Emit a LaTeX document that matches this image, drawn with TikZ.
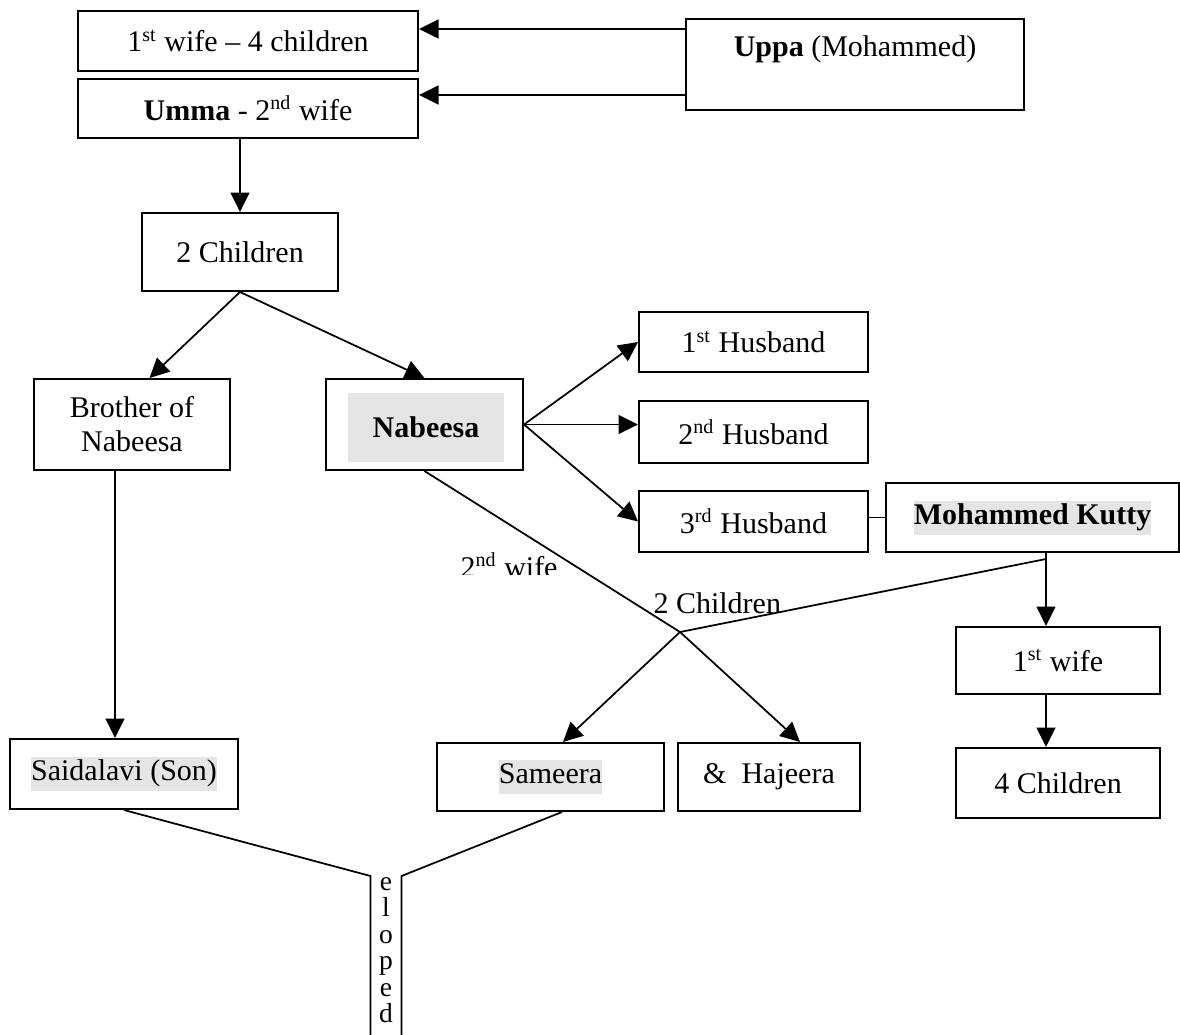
\documentclass[tikz,border=0pt]{standalone}
\usepackage{fontspec}
\setmainfont{Liberation Serif}
\usepackage{tikz}
\usetikzlibrary{arrows.meta,positioning}
\definecolor{hilite}{RGB}{229,229,229}
\newcommand{\marked}[1]{{\setlength{\fboxsep}{0pt}\colorbox{hilite}{\strut #1}}}

\begin{document}
\begin{tikzpicture}[x=0.4pt,y=-0.4pt,
  font=\fontsize{12}{13.6}\selectfont,
  box/.style={draw,line width=0.8pt,inner sep=0pt,align=center},
  sz/.style 2 args={minimum width=#1*0.4pt,minimum height=#2*0.4pt},
  arr/.style={line width=0.7pt,-{Triangle[length=7.8pt,width=7.6pt]}},
  link/.style={line width=0.7pt},
]
  \useasboundingbox (0,0) rectangle (1180,1034);

  % parents
  \node[box,sz={340}{60}] (wife1) at (248,41)    {1\textsuperscript{st} wife \textendash\ 4 children};
  \node[box,sz={340}{59}] (umma)  at (248,108.5) {\textbf{Umma} - 2\textsuperscript{nd} wife};
  \node[box,sz={338}{91}] (uppa)  at (855,64.5)  {};
  \node[below=6.8pt of uppa.north,inner sep=0pt] (uppaname) {\textbf{Uppa} (Mohammed)};
  \node[box,sz={196}{78}] (kids2) at (240,252)   {2 Children};

  % second generation
  \node[box,sz={196}{91}] (bro) at (132,424.5)   {Brother of\\Nabeesa};
  \node[box,sz={197}{91}] (nab) at (424.5,424.5) {};
  \node[fill=hilite,inner sep=0pt,sz={156}{69}] (nabname) at (426,427.5) {\textbf{Nabeesa}};
  \node[box,sz={229}{60}] (hus1) at (753.5,342)   {1\textsuperscript{st} Husband};
  \node[box,sz={229}{62}] (hus2) at (753.5,432)   {2\textsuperscript{nd} Husband};
  \node[box,sz={229}{61}] (hus3) at (753.5,521.5) {3\textsuperscript{rd} Husband};
  \node[box,sz={293}{69}] (mk) at (1032.5,517.5)  {\marked{\textbf{Mohammed Kutty}}};
  \node[box,sz={204}{67}] (mkwife) at (1058,660.5) {1\textsuperscript{st} wife};
  \node[box,sz={204}{70}] (mkkids) at (1058,783)   {4 Children};

  % third generation
  \node[box,sz={228}{70}] (said) at (124,774)   {\marked{Saidalavi (Son)}};
  \node[box,sz={227}{68}] (sam)  at (550.5,777) {\marked{Sameera}};
  \node[box,sz={182}{68}] (haj)  at (769,777)   {\&\ \ Hajeera};

  \begin{scope}
    \clip (440,540) rectangle (580,574);
    \node[anchor=base west,inner sep=0pt] (wifelbl) at (460,577) {2\textsuperscript{nd} wife};
  \end{scope}
  \node[anchor=base west,inner sep=0pt] (kidslbl) at (653,613) {2 Children};

  \node[inner sep=0pt,sz={30}{158}] (elope) at (386,955.5) {};
  \node[below=0.4pt of elope.north,inner sep=0pt,align=center,
    font=\fontsize{11}{10.6}\selectfont] (elopetext) {e\\l\\o\\p\\e\\d};

  % connectors
  \coordinate (u1) at ([yshift=14.2pt]uppa.west);
  \coordinate (u2) at ([yshift=-12.2pt]uppa.west);
  \draw[arr] (u1) -- (u1 -| wife1.east);
  \draw[arr] (u2) -- (u2 -| umma.east);
  \draw[arr] (kids2.north |- umma.south) -- (kids2.north);
  \draw[arr] (kids2.south) -- ([xshift=7pt]bro.north);
  \draw[arr] (kids2.south) -- (nab.north);
  \draw[arr] (nab.east) -- (hus1.west);
  \draw[arr] (nab.east) -- (nab.east -| hus2.west);
  \draw[arr] (nab.east) -- (hus3.west);
  \draw[link] (hus3.east |- mk.west) -- (mk.west);

  \coordinate (mkdown) at ([xshift=-4.8pt]mkwife.north);
  \draw[arr] (mkdown |- mk.south) -- (mkdown);
  \draw[arr] (mkdown |- mkwife.south) -- (mkdown |- mkkids.north);

  \coordinate (twokids) at (680,632);
  \draw[link] ([yshift=-2.4pt]mkdown |- mk.south) -- (twokids);
  \draw[arr] (twokids) -- ([xshift=5pt]sam.north);
  \draw[arr] (nab.south) -- (twokids) -- ([xshift=12.4pt]haj.north);

  \coordinate (sonline) at ([xshift=-6.8pt]bro.south);
  \draw[arr] (sonline) -- (sonline |- said.north);

  \draw[link] (said.south) -- (elope.north west) -- (elope.south west);
  \draw[link] ([xshift=4.6pt]sam.south) -- (elope.north east) -- (elope.south east);
\end{tikzpicture}
\end{document}
